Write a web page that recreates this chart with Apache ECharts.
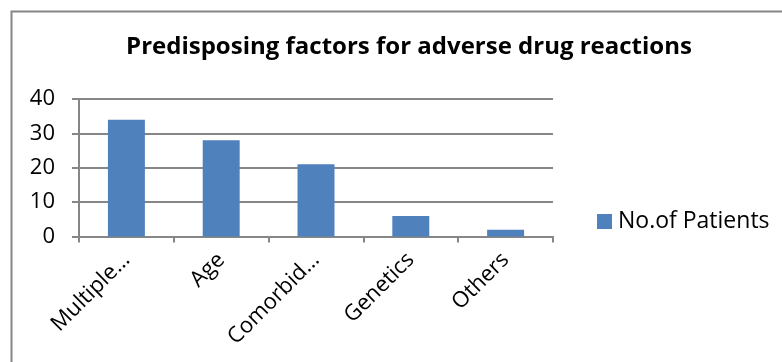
<!DOCTYPE html>
<html><head><meta charset="utf-8">
<script src="https://cdn.jsdelivr.net/npm/echarts@6/dist/echarts.min.js"></script>
<style>html,body{margin:0;padding:0;background:#fff}#c{width:782px;height:362px}</style>
</head><body><div id="c"></div>
<script>
const categories = ["Multiple\u2026", "Age", "Comorbid\u2026", "Genetics", "Others"];
const patients = [34, 28, 21, 6, 2];
const yTicks = { min: 0, max: 40, interval: 10 };
const seriesName = "No.of Patients";
const titleText = "Predisposing factors for adverse drug reactions";

const FONT = "'Open Sans', 'Liberation Sans', sans-serif";
const chart = echarts.init(document.getElementById('c'), null, { renderer: 'canvas' });
chart.setOption({
  animation: false,
  backgroundColor: '#fff',
  graphic: [{
    type: 'rect', left: 9, top: 9, silent: true,
    shape: { x: 0, y: 0, width: 800, height: 400 },
    style: { fill: 'none', stroke: '#868686', lineWidth: 2 }
  }],
  title: {
    text: titleText, left: 404, top: 30, textAlign: 'center',
    textStyle: { fontFamily: FONT, fontWeight: 'bold', fontSize: 24, color: '#000' }
  },
  legend: {
    data: [seriesName], left: 592, top: 205, orient: 'vertical',
    itemWidth: 15, itemHeight: 15, itemGap: 0,
    icon: 'rect',
    textStyle: { fontFamily: FONT, fontSize: 23, color: '#000', padding: [0, 0, 0, 1] }
  },
  grid: { left: 79, top: 99, width: 474, height: 137.5, containLabel: false },
  xAxis: {
    type: 'category', data: categories,
    axisLine: { lineStyle: { color: '#868686', width: 2 } },
    axisTick: { show: true, length: 6, alignWithLabel: false, lineStyle: { color: '#868686', width: 2 } },
    axisLabel: { interval: 0, rotate: 45, color: '#000', fontFamily: FONT, fontSize: 22, margin: 20 }
  },
  yAxis: {
    type: 'value', min: yTicks.min, max: yTicks.max, interval: yTicks.interval,
    axisLine: { show: true, lineStyle: { color: '#868686', width: 2 } },
    axisTick: { show: true, length: 7, lineStyle: { color: '#868686', width: 2 } },
    splitLine: { lineStyle: { color: '#868686', width: 2 } },
    axisLabel: { color: '#000', fontFamily: FONT, fontSize: 22, margin: 24 }
  },
  series: [{
    name: seriesName, type: 'bar', data: patients,
    barWidth: '39%',
    itemStyle: { color: '#4F81BD' }
  }]
});
</script></body></html>
